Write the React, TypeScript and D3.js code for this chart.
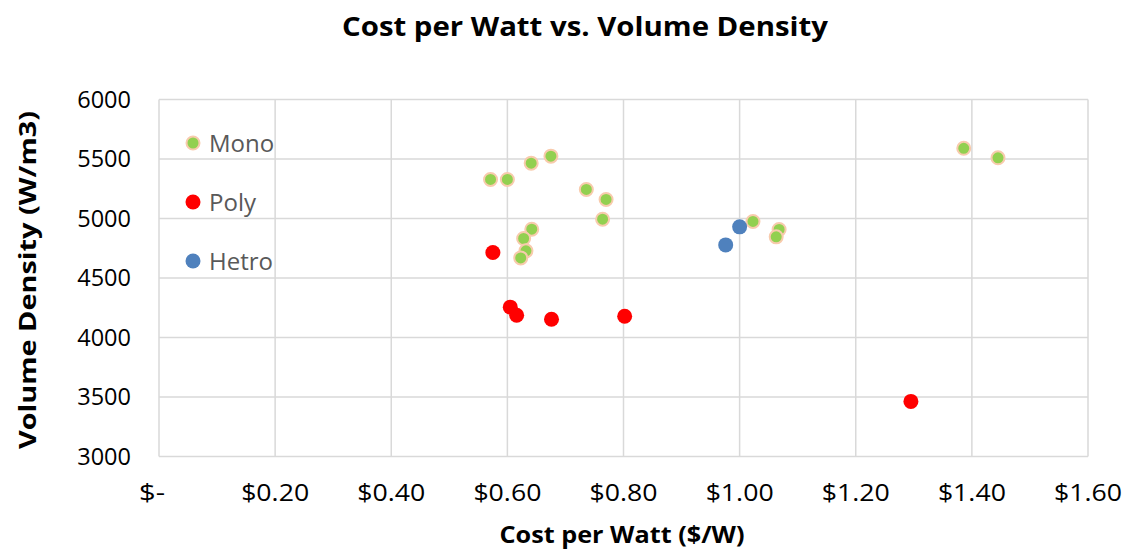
import React from "react";
import * as d3 from "d3";

const monoX = [0.571, 0.600, 0.641, 0.675, 0.736, 0.770, 0.764, 0.642, 0.628, 0.632, 0.623, 1.023, 1.068, 1.063, 1.386, 1.445];
const monoY = [5328, 5328, 5465, 5524, 5244, 5160, 4994, 4910, 4832, 4728, 4669, 4975, 4908, 4846, 5590, 5510];
const polyX = [0.575, 0.605, 0.616, 0.676, 0.802, 1.295];
const polyY = [4714, 4255, 4187, 4153, 4178, 3463];
const hetroX = [1.000, 0.976];
const hetroY = [4930, 4778];
const xTicks = [0, 0.2, 0.4, 0.6, 0.8, 1.0, 1.2, 1.4, 1.6];
const yTicks = [3000, 3500, 4000, 4500, 5000, 5500, 6000];
const seriesNames = ["Mono", "Poly", "Hetro"];

const W = 1127, H = 550;
const FONT = "'Open Sans', 'Liberation Sans', sans-serif";

export default function App() {
  const x = d3.scaleLinear().domain([0, 1.6]).range([159, 1088]);
  const y = d3.scaleLinear().domain([3000, 6000]).range([456.5, 99.5]);
  const fmtX = (v: number) => (v === 0 ? "$-" : "$" + d3.format(".2f")(v));

  const series = [
    { name: seriesNames[0], xs: monoX, ys: monoY, fill: "#92D050", stroke: "#F8CBAD", r: 6.5, sw: 2 },
    { name: seriesNames[1], xs: polyX, ys: polyY, fill: "#FF0000", stroke: "none", r: 7.5, sw: 0 },
    { name: seriesNames[2], xs: hetroX, ys: hetroY, fill: "#4F81BD", stroke: "none", r: 7.5, sw: 0 },
  ];

  return (
    <svg width={W} height={H} style={{ display: "block", position: "absolute", left: 0, top: 0 }} fontFamily={FONT}>
      <rect width={W} height={H} fill="#fff" />
      <text x={585} y={36} textAnchor="middle" fontSize={27} fontWeight="bold" fill="#000"
        textLength={486} lengthAdjust="spacingAndGlyphs">
        Cost per Watt vs. Volume Density
      </text>
      {xTicks.map((t) => (
        <line key={"gx" + t} x1={x(t)} x2={x(t)} y1={y(6000)} y2={y(3000)} stroke="#D9D9D9" strokeWidth={1.5} />
      ))}
      {yTicks.map((t) => (
        <line key={"gy" + t} x1={x(0)} x2={x(1.6)} y1={y(t)} y2={y(t)} stroke="#D9D9D9" strokeWidth={1.5} />
      ))}
      {yTicks.map((t) => (
        <text key={"ty" + t} x={131} y={y(t) + 8} textAnchor="end" fontSize={23.5} fill="#000">
          {t}
        </text>
      ))}
      {xTicks.map((t) => (
        <text key={"tx" + t} x={t === 0 ? 152 : x(t)} y={501} textAnchor="middle" fontSize={23.5} fill="#000"
          textLength={t === 0 ? 26 : 68} lengthAdjust="spacingAndGlyphs">
          {fmtX(t)}
        </text>
      ))}
      <text x={622} y={543} textAnchor="middle" fontSize={24} fontWeight="bold" fill="#000"
        textLength={245} lengthAdjust="spacingAndGlyphs">
        Cost per Watt ($/W)
      </text>
      <text transform="translate(36,280) rotate(-90)" textAnchor="middle" fontSize={24} fontWeight="bold" fill="#000"
        textLength={338} lengthAdjust="spacingAndGlyphs">
        Volume Density (W/m3)
      </text>
      {series.map((s) => (
        <g key={s.name}>
          {s.xs.map((xv, i) => (
            <circle key={i} cx={x(xv)} cy={y(s.ys[i])} r={s.r} fill={s.fill} stroke={s.stroke} strokeWidth={s.sw} />
          ))}
        </g>
      ))}
      {series.map((s, i) => (
        <g key={"lg" + s.name} transform={`translate(193,${143 + i * 59})`}>
          <circle r={s.r} fill={s.fill} stroke={s.stroke} strokeWidth={s.sw} />
          <text x={16} y={8.5} fontSize={24} fill="#595959">
            {s.name}
          </text>
        </g>
      ))}
    </svg>
  );
}
